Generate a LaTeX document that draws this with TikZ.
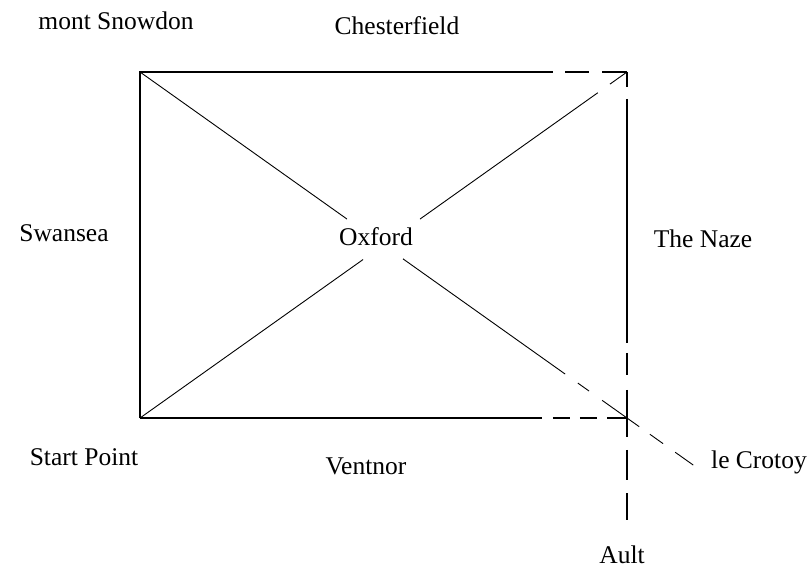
\documentclass[tikz,border=0pt]{standalone}
\usepackage{fontspec}
\setmainfont{Liberation Serif}
\usetikzlibrary{calc}

\tikzset{
  side/.style={line width=1.1pt, black},
  diag/.style={line width=0.9pt, black},
  place/.style={font=\fontsize{25.5}{30}\selectfont, anchor=base, inner sep=0pt},
}

\begin{document}
\begin{tikzpicture}[x=1pt,y=-1pt]
    \useasboundingbox (0,0) rectangle (811,568);

    % --- 1. corners of the frame ---
    \coordinate (TL) at (140,72);
    \coordinate (TR) at (627,72);
    \coordinate (BL) at (140,418);
    \coordinate (BR) at (627,418);

    % --- 2. place names ---
    \node[place] (snowdon) at (116,29) {mont Snowdon};
    \node[place] (chester) at (397,34) {Chesterfield};
    \node[place] (swansea) at (64,241) {Swansea};
    \node[place] (oxford)  at (376,245) {Oxford};
    \node[place] (naze)    at (703,247) {The Naze};
    \node[place] (start)   at (84,465) {Start Point};
    \node[place] (ventnor) at (366,474) {Ventnor};
    \node[place] (crotoy)  at (759,468) {le Crotoy};
    \node[place] (ault)    at (622,563) {Ault};

    % --- 3. the four sides (partly broken) ---
    \draw[side] (BL) -- (TL) -- ($(TL)!0.848!(TR)$);
    \foreach \a/\b in {0.873/0.922, 0.949/1}
        \draw[side] ($(TL)!\a!(TR)$) -- ($(TL)!\b!(TR)$);
    \draw[side] (BL) -- ($(BL)!0.825!(BR)$);
    \foreach \a/\b in {0.848/0.883, 0.903/0.938, 0.959/1}
        \draw[side] ($(BL)!\a!(BR)$) -- ($(BL)!\b!(BR)$);
    \foreach \a/\b in {0/0.043, 0.078/0.783, 0.812/0.876, 0.919/1.055, 1.092/1.179, 1.217/1.295}
        \draw[side] ($(TR)!\a!(BR)$) -- ($(TR)!\b!(BR)$);

    % --- 4. the two diagonals through Oxford ---
    \foreach \a/\b in {0/0.425, 0.540/0.873, 0.899/0.922, 0.949/1.025, 1.047/1.074, 1.099/1.136}
        \draw[diag] ($(TL)!\a!(BR)$) -- ($(TL)!\b!(BR)$);
    \foreach \a/\b in {0/0.458, 0.575/0.940, 0.965/1}
        \draw[diag] ($(BL)!\a!(TR)$) -- ($(BL)!\b!(TR)$);
\end{tikzpicture}
\end{document}
